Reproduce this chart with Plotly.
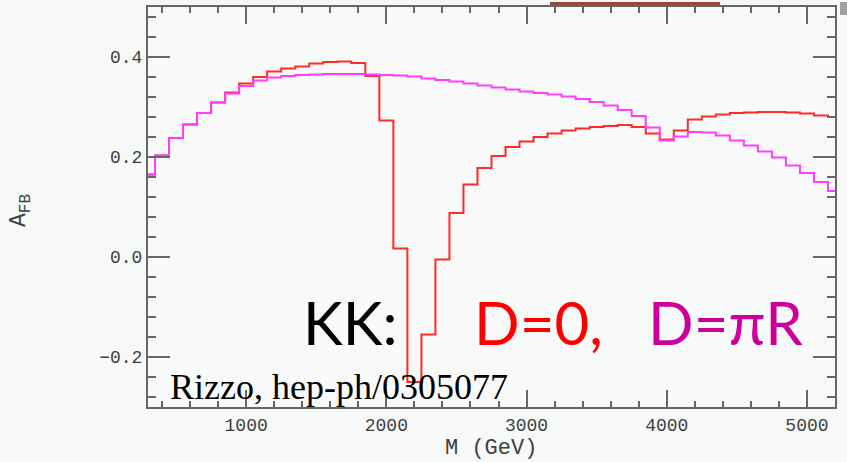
import plotly.graph_objects as go

# Dilepton invariant mass bin centres (GeV), 100 GeV bins
mass_gev = [300, 400, 500, 600, 700, 800, 900, 1000, 1100, 1200, 1300, 1400,
            1500, 1600, 1700, 1800, 1900, 2000, 2100, 2200, 2300, 2400, 2500,
            2600, 2700, 2800, 2900, 3000, 3100, 3200, 3300, 3400, 3500, 3600,
            3700, 3800, 3900, 4000, 4100, 4200, 4300, 4400, 4500, 4600, 4700,
            4800, 4900, 5000, 5100, 5200]

# Forward-backward asymmetry, KK excitations with D = 0
afb_d0 = [0.165, 0.203, 0.238, 0.265, 0.288, 0.309, 0.329, 0.347, 0.360, 0.371,
          0.377, 0.381, 0.387, 0.390, 0.391, 0.388, 0.362, 0.273, 0.017, -0.250,
          -0.155, -0.005, 0.088, 0.145, 0.178, 0.202, 0.220, 0.231, 0.240, 0.247,
          0.253, 0.257, 0.260, 0.262, 0.264, 0.260, 0.247, 0.235, 0.253, 0.275,
          0.281, 0.285, 0.288, 0.289, 0.290, 0.290, 0.289, 0.287, 0.283, 0.280]

# Forward-backward asymmetry, KK excitations with D = pi R
afb_dpir = [0.165, 0.203, 0.238, 0.265, 0.288, 0.309, 0.327, 0.342, 0.353, 0.359,
            0.362, 0.364, 0.365, 0.366, 0.366, 0.366, 0.365, 0.364, 0.363, 0.361,
            0.357, 0.354, 0.351, 0.347, 0.343, 0.339, 0.335, 0.331, 0.328, 0.325,
            0.321, 0.316, 0.310, 0.303, 0.294, 0.282, 0.259, 0.233, 0.241, 0.250,
            0.249, 0.243, 0.233, 0.223, 0.211, 0.199, 0.183, 0.168, 0.150, 0.132]

x_ticks = [1000, 2000, 3000, 4000, 5000]
x_tick_text = ["1000", "2000", "3000", "4000", "5000"]
y_ticks = [-0.2, 0.0, 0.2, 0.4]
y_tick_text = ["\u22120.2", "0.0", "0.2", "0.4"]

W, H = 847, 462
L, R, T, B = 148, 12, 5, 55
PW, PH = W - L - R, H - T - B


def px_x(px):
    return (px - L) / PW


def px_y(py):
    return (H - B - py) / PH


AXIS = "#666666"
TICKFONT = dict(family="Liberation Mono", size=18, color="#404040")

fig = go.Figure()
fig.add_trace(go.Scatter(x=mass_gev, y=afb_d0, mode="lines",
                         line=dict(color="#ff2b2b", width=2, shape="hvh"),
                         name="D=0"))
fig.add_trace(go.Scatter(x=mass_gev, y=afb_dpir, mode="lines",
                         line=dict(color="#ff3cff", width=2, shape="hvh"),
                         name="D=πR"))

fig.update_xaxes(range=[300, 5200], tickvals=x_ticks, ticktext=x_tick_text,
                 ticks="inside", ticklen=17, tickwidth=2, tickcolor=AXIS,
                 showline=True, linecolor=AXIS, linewidth=2, mirror="ticks",
                 showgrid=False, zeroline=False, tickfont=TICKFONT,
                 minor=dict(dtick=200, tick0=0, ticks="inside", ticklen=6,
                            tickwidth=1.5, tickcolor=AXIS, showgrid=False))
fig.update_yaxes(range=[-0.3, 0.5], tickvals=y_ticks, ticktext=y_tick_text,
                 ticks="inside", ticklen=22, tickwidth=2, tickcolor=AXIS,
                 showline=True, linecolor=AXIS, linewidth=2, mirror="ticks",
                 showgrid=False, zeroline=False, tickfont=TICKFONT,
                 minor=dict(dtick=0.04, tick0=0, ticks="inside", ticklen=8,
                            tickwidth=1.5, tickcolor=AXIS, showgrid=False))

annotations = [
    dict(text="A<sub>FB</sub>", x=px_x(21), y=px_y(210), textangle=-90,
         font=dict(family="Liberation Mono", size=23, color="#404040"),
         xanchor="center", yanchor="middle"),
    dict(text="M (GeV)", x=px_x(491), y=px_y(449),
         font=dict(family="Liberation Mono", size=22, color="#404040"),
         xanchor="center", yanchor="middle"),
    dict(text="KK:", x=px_x(301), y=px_y(322),
         font=dict(family="Lato", size=60, color="#000000"),
         xanchor="left", yanchor="middle"),
    dict(text="D=0,", x=px_x(472), y=px_y(322),
         font=dict(family="Lato", size=60, color="#ff0000"),
         xanchor="left", yanchor="middle"),
    dict(text="D=\u03c0R", x=px_x(646), y=px_y(322),
         font=dict(family="Lato", size=60, color="#cc0099"),
         xanchor="left", yanchor="middle"),
    dict(text="Rizzo, hep-ph/0305077", x=px_x(168), y=px_y(387),
         font=dict(family="Liberation Serif", size=36, color="#000000"),
         xanchor="left", yanchor="middle"),
]
for a in annotations:
    a.update(xref="paper", yref="paper", showarrow=False)

fig.update_layout(
    width=W, height=H,
    margin=dict(l=L, r=R, t=T, b=B),
    paper_bgcolor="#f6f9f7", plot_bgcolor="#f7faf8",
    showlegend=False,
    annotations=annotations,
    shapes=[
        dict(type="rect", xref="paper", yref="paper",
             x0=px_x(550), x1=px_x(720), y0=px_y(3), y1=px_y(0),
             fillcolor="#9a4a32", line=dict(width=0), layer="below"),
        dict(type="rect", xref="paper", yref="paper",
             x0=px_x(840), x1=px_x(847), y0=px_y(13), y1=px_y(0),
             fillcolor="#a0a0a0", line=dict(width=0)),
    ],
)

fig.write_html("out.html")
